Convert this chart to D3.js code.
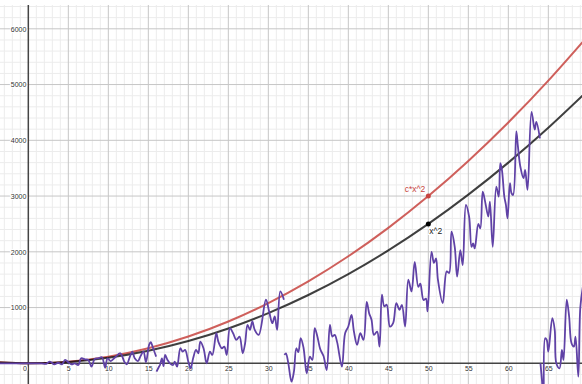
<!DOCTYPE html>
<html>
<head>
<meta charset="utf-8">
<script src="https://cdn.jsdelivr.net/npm/d3@7"></script>
<style>
  html, body { margin: 0; padding: 0; background: #fff; }
  svg { display: block; font-family: "Liberation Sans", Arial, sans-serif; }
  .tick text { fill: #333; font-size: 7px; paint-order: stroke; stroke: #fff; stroke-width: 2px; }
</style>
</head>
<body>
<svg id="chart" width="582" height="384"></svg>
<script>
// the two parabolas, read every 5 units
const curveX   = [-5, 0, 5, 10, 15, 20, 25, 30, 35, 40, 45, 50, 55, 60, 65, 70];
const squareY  = [25, 0, 25, 100, 225, 400, 625, 900, 1225, 1600, 2025, 2500, 3025, 3600, 4225, 4900];
const scaledY  = [30, 0, 30, 120, 270, 480, 750, 1080, 1470, 1920, 2430, 3000, 3630, 4320, 5070, 5880];

// purple wiggle, one pair of arrays per continuous piece
const wiggleX1 = [-4, 0, 1.25, 1.67, 2.2, 2.7, 3.25, 3.75, 4.2, 4.6, 5.0, 5.4, 5.8, 6.25, 6.6, 7.1, 7.5, 7.9, 8.3, 8.75,
  9.2, 9.6, 9.9, 10.3, 10.8, 11.5, 12.0, 12.3, 12.7, 13.0, 13.3, 13.7, 14.0, 14.4, 14.7, 15.1, 15.3, 15.6, 15.98];
const wiggleY1 = [0, 0, 0, 0, -10, 30, -20, 10, -20, 60, 20, -20, 0, -30, 90, 70, 60, -60, 80, 90,
  110, -80, 90, 40, 100, 180, 30, -20, 120, 210, 90, 40, 120, 210, 20, 330, 380, 270, 120];

const wiggleX2 = [16.02, 16.3, 16.46, 16.7, 16.9, 17.1, 17.4, 17.7, 18.1, 18.3, 18.6, 19.0, 19.3, 19.6, 20.0, 20.3, 20.6,
  20.96, 21.25, 21.5, 21.9, 22.3, 22.7, 23.0, 23.5, 23.75, 24.2, 24.5, 24.8, 25.2, 25.6, 26.0, 26.4, 26.8, 27.1, 27.4,
  27.7, 28.0, 28.3, 28.8, 29.7, 30.1, 30.5, 30.8, 31.1, 31.5, 31.95];
const wiggleY2 = [-150, -70, -30, 90, -50, 150, 60, 0, -30, 30, -60, 270, 210, 240, 30, -90, 90,
  240, 180, 390, 270, 0, 210, 150, 540, 390, 270, 300, 150, 630, 540, 420, 480, 180, 360, 690,
  600, 750, 600, 510, 1140, 930, 720, 840, 600, 1290, 1140];

const wiggleX3 = [32.02, 32.2, 32.5, 32.9, 33.2, 33.5, 33.75, 34.05, 34.4, 34.8, 35.2, 35.5, 35.8, 36.1, 36.5, 36.9, 37.3,
  37.7, 38.0, 38.3, 38.6, 39.2, 39.6, 40.0, 40.4, 40.7, 41.1, 41.5, 41.9, 42.3, 42.6, 42.9, 43.2, 43.6, 43.9, 44.2,
  44.5, 44.8, 45.2, 45.6, 46.0, 46.4, 46.7, 47.1, 47.5, 47.9, 48.3, 48.75, 49.0, 49.4, 49.7, 49.9, 50.4, 50.7, 50.96,
  51.2, 51.8, 52.3, 52.6, 52.9, 53.3, 53.6, 54.0, 54.3, 54.7, 55.1, 55.4, 55.6, 55.8, 56.25, 56.5, 56.8, 57.1, 57.5,
  57.7, 58.05, 58.5, 58.8, 59.0, 59.2, 59.5, 59.7, 59.9, 60.2, 60.4, 60.6, 61.0, 61.2, 61.5, 61.9, 62.1, 62.4, 62.9,
  63.3, 63.5, 63.95];
const wiggleY3 = [150, 180, 0, -330, -150, 270, 200, 450, 280, -180, 120, 60, 630, 500, 250, 130, -120,
  690, 480, 510, 380, -60, 540, 660, 870, 570, 330, 540, 420, 1100, 900, 780, 510, 570, 300, 1230,
  1020, 1050, 660, 720, 1080, 960, 1050, 660, 1500, 1290, 1820, 1370, 1430, 1135, 1160, 930, 2000, 1800, 1880,
  1500, 1080, 1650, 1620, 2360, 2090, 1555, 2030, 1760, 2840, 2630, 2090, 2150, 2060, 2500, 2420, 3080, 2900, 2630,
  2900, 2090, 3170, 2990, 3590, 3470, 2990, 2840, 2600, 3230, 3050, 3020, 4160, 3890, 3530, 3320, 3470, 3110, 4510,
  4190, 4330, 4035];

const wiggleX4 = [64.02, 64.2, 64.4, 64.6, 64.8, 65.0, 65.5, 65.8, 66.0, 66.4, 66.7, 66.9, 67.3, 67.6, 67.9, 68.2,
  68.4, 68.75, 69.0, 69.4];
const wiggleY4 = [0, -300, -650, 450, 420, 210, 810, 600, 0, -90, 240, 60, 1140, 840, 360, 300,
  480, -240, 1000, 1450];

const xTicks = [0, 5, 10, 15, 20, 25, 30, 35, 40, 45, 50, 55, 60, 65];
const yTicks = [1000, 2000, 3000, 4000, 5000, 6000];

// labelled points
const markX = [50, 50];
const markY = [3000, 2500];
const markNames = ["c*x^2", "x^2"];

const width = 582, height = 384, plotTop = 5;
const red = "#c74440", black = "#000000", purple = "#6042a6";

const svg = d3.select("#chart");
const x = d3.scaleLinear().domain([-3.54, 69.21]).range([0, width]);
const y = d3.scaleLinear().domain([-371, 6427]).range([height, plotTop]);

svg.append("defs").append("clipPath").attr("id", "plot")
  .append("rect").attr("x", 0).attr("y", plotTop).attr("width", width).attr("height", height - plotTop);

// grid
const grid = svg.append("g").attr("clip-path", "url(#plot)");
const xMinor = d3.range(-3, 70).filter(d => d % 5 !== 0);
const xMajor = d3.range(0, 70, 5).filter(d => d !== 0);
const yMinor = d3.range(-200, 6500, 200).filter(d => d % 1000 !== 0);
const yMajor = d3.range(1000, 7000, 1000);

grid.selectAll(".vminor").data(xMinor).enter().append("line")
  .attr("x1", d => x(d)).attr("x2", d => x(d)).attr("y1", plotTop).attr("y2", height)
  .attr("stroke", "#ececec").attr("stroke-width", 1);
grid.selectAll(".hminor").data(yMinor).enter().append("line")
  .attr("x1", 0).attr("x2", width).attr("y1", d => y(d)).attr("y2", d => y(d))
  .attr("stroke", "#ececec").attr("stroke-width", 1);
grid.selectAll(".vmajor").data(xMajor).enter().append("line")
  .attr("x1", d => x(d)).attr("x2", d => x(d)).attr("y1", plotTop).attr("y2", height)
  .attr("stroke", "#c6c6c6").attr("stroke-width", 1);
grid.selectAll(".hmajor").data(yMajor).enter().append("line")
  .attr("x1", 0).attr("x2", width).attr("y1", d => y(d)).attr("y2", d => y(d))
  .attr("stroke", "#c6c6c6").attr("stroke-width", 1);

// axis lines
grid.append("line")
  .attr("x1", 0).attr("x2", width).attr("y1", y(0)).attr("y2", y(0))
  .attr("stroke", "#444").attr("stroke-width", 1.5);
grid.append("line")
  .attr("x1", x(0)).attr("x2", x(0)).attr("y1", plotTop).attr("y2", height)
  .attr("stroke", "#444").attr("stroke-width", 1.5);

// tick labels
const xAxis = svg.append("g")
  .attr("transform", `translate(0, ${y(0)})`)
  .call(d3.axisBottom(x).tickValues(xTicks).tickFormat(d3.format("d")).tickSize(0).tickPadding(3));
xAxis.select(".domain").remove();
xAxis.selectAll(".tick")
  .filter(d => d === 0)
  .select("text")
  .attr("text-anchor", "end")
  .attr("x", -2);

const yAxis = svg.append("g")
  .attr("transform", `translate(${x(0)}, 0)`)
  .call(d3.axisLeft(y).tickValues(yTicks).tickFormat(d3.format("d")).tickSize(0).tickPadding(2));
yAxis.select(".domain").remove();
xAxis.attr("font-family", null).attr("font-size", null);
yAxis.attr("font-family", null).attr("font-size", null);

// curves
const plot = svg.append("g").attr("clip-path", "url(#plot)");
const smooth = d3.line().x(d => x(d[0])).y(d => y(d[1])).curve(d3.curveNatural);
const wiggle = d3.line().x(d => x(d[0])).y(d => y(d[1])).curve(d3.curveCatmullRom.alpha(0.5));

plot.append("path")
  .datum(d3.zip(curveX, scaledY))
  .attr("d", smooth)
  .attr("fill", "none").attr("stroke", red).attr("stroke-width", 2).attr("stroke-opacity", 0.85);
plot.append("path")
  .datum(d3.zip(curveX, squareY))
  .attr("d", smooth)
  .attr("fill", "none").attr("stroke", black).attr("stroke-width", 2).attr("stroke-opacity", 0.75);

const pieces = [
  d3.zip(wiggleX1, wiggleY1),
  d3.zip(wiggleX2, wiggleY2),
  d3.zip(wiggleX3, wiggleY3),
  d3.zip(wiggleX4, wiggleY4)
];
plot.selectAll(".wiggle").data(pieces).enter().append("path")
  .attr("class", "wiggle")
  .attr("d", wiggle)
  .attr("fill", "none").attr("stroke", purple).attr("stroke-width", 1.8)
  .attr("stroke-linejoin", "round");

// labelled points
const marks = d3.zip(markX, markY, markNames);
const markColors = [red, black];
plot.selectAll(".mark").data(marks).enter().append("circle")
  .attr("cx", d => x(d[0])).attr("cy", d => y(d[1])).attr("r", 2.5)
  .attr("fill", (d, i) => markColors[i]);

svg.append("text")
  .attr("x", x(markX[0]) - 3).attr("y", y(markY[0]) - 4)
  .attr("text-anchor", "end")
  .attr("font-size", 8.5).attr("fill", red)
  .text(markNames[0]);
svg.append("text")
  .attr("x", x(markX[1]) + 1).attr("y", y(markY[1]) + 10.5)
  .attr("font-size", 8.5).attr("fill", "#222")
  .attr("paint-order", "stroke").attr("stroke", "#fff").attr("stroke-width", 2)
  .text(markNames[1]);
</script>
</body>
</html>
